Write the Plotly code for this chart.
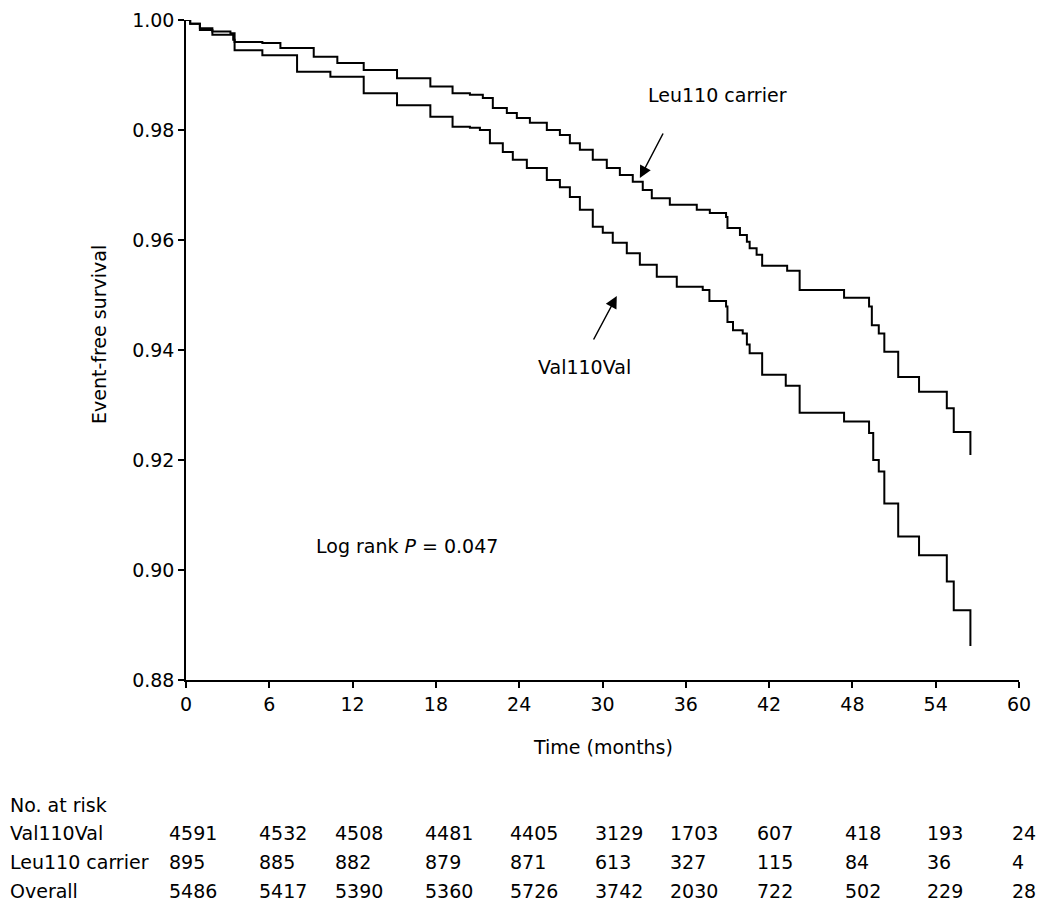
import plotly.graph_objects as go

# ---- data ----
leu_t = [0, 0.3, 1.0, 1.9, 3.2, 3.5, 5.5, 6.8, 9.2, 10.9, 12.8, 15.2, 17.6, 19.2, 20.45, 21.38,
         22.10, 23.11, 23.83, 24.77, 25.99, 26.93, 27.65, 28.37, 29.30, 30.31, 31.25, 32.18,
         32.90, 33.55, 34.85, 36.79, 37.73, 38.9, 39.0, 39.9, 40.4, 40.6, 41.1, 41.5,
         43.3, 44.2, 47.4, 49.2, 49.4, 49.9, 50.3, 51.3, 52.8, 54.8, 55.3, 56.5]
leu_s = [1.0, 0.9993, 0.9985, 0.9979, 0.9976, 0.9960, 0.9958, 0.9949, 0.9933, 0.9922, 0.9909,
         0.9894, 0.9879, 0.9867, 0.9864, 0.9858, 0.9840, 0.9831, 0.9822, 0.9813, 0.9800, 0.9791,
         0.9776, 0.9764, 0.9746, 0.9731, 0.9718, 0.9706, 0.9691, 0.9676, 0.9664, 0.9655, 0.9649,
         0.9642, 0.9622, 0.9609, 0.9597, 0.9585, 0.9573, 0.9553, 0.9544, 0.9509, 0.9495,
         0.9479, 0.9445, 0.9430, 0.9397, 0.9351, 0.9324, 0.9294, 0.9251, 0.9209]

val_t = [0, 0.3, 1.0, 1.9, 3.4, 3.5, 5.5, 8.0, 10.4, 12.8, 15.2, 17.6, 19.2, 20.45, 21.17, 21.89,
         22.82, 23.54, 24.55, 25.99, 26.93, 27.65, 28.37, 29.30, 30.02, 30.74, 31.75, 32.69,
         33.91, 35.35, 37.22, 37.7, 38.9, 39.0, 39.4, 40.1, 40.4, 40.6, 41.5, 43.2, 44.2, 47.4,
         49.2, 49.5, 49.9, 50.3, 51.3, 52.8, 54.8, 55.3, 56.5]
val_s = [1.0, 0.9993, 0.9982, 0.9973, 0.9964, 0.9945, 0.9936, 0.9906, 0.9897, 0.9867, 0.9845,
         0.9824, 0.9806, 0.9804, 0.9800, 0.9776, 0.9760, 0.9746, 0.9731, 0.9709, 0.9696, 0.9678,
         0.9655, 0.9624, 0.9613, 0.9595, 0.9576, 0.9555, 0.9533, 0.9515, 0.9509, 0.9489, 0.9479,
         0.9451, 0.9436, 0.9430, 0.9410, 0.9394, 0.9355, 0.9335, 0.9286, 0.9270, 0.9249, 0.9200,
         0.9179, 0.9121, 0.9061, 0.9027, 0.8979, 0.8927, 0.8862]

x_ticks = [0, 6, 12, 18, 24, 30, 36, 42, 48, 54, 60]
y_ticks = [0.88, 0.90, 0.92, 0.94, 0.96, 0.98, 1.00]

risk_groups = ["Val110Val", "Leu110 carrier", "Overall"]
risk_val = [4591, 4532, 4508, 4481, 4405, 3129, 1703, 607, 418, 193, 24]
risk_leu = [895, 885, 882, 879, 871, 613, 327, 115, 84, 36, 4]
risk_all = [5486, 5417, 5390, 5360, 5726, 3742, 2030, 722, 502, 229, 28]

# ---- layout geometry (figure pixels; page has an 8px body margin) ----
OFF = 8
W, H = 1042, 913
L, R, T, B = 178, 31, 12, 241
PW, PH = W - L - R, H - T - B

def px(xp):  # page pixel -> paper x
    return (xp - OFF - L) / PW

def py(yp):  # page pixel -> paper y
    return (H - B - (yp - OFF)) / PH

FS = 19
FONT = "DejaVu Sans, Liberation Sans, Arial, sans-serif"
fig = go.Figure()
fig.add_trace(go.Scatter(x=val_t, y=val_s, mode="lines", line=dict(color="black", width=2, shape="hv"),
                         name="Val110Val", showlegend=False))
fig.add_trace(go.Scatter(x=leu_t, y=leu_s, mode="lines", line=dict(color="black", width=2, shape="hv"),
                         name="Leu110 carrier", showlegend=False))

ann = []
ann.append(dict(x=px(646), y=py(95), xref="paper", yref="paper", text="Leu110 carrier",
                showarrow=False, xanchor="left", yanchor="middle"))
ann.append(dict(x=32.69, y=0.97127, xref="x", yref="y", ax=24, ay=-46, text="", showarrow=True,
                arrowhead=2, arrowsize=1.6, arrowwidth=1.5, arrowcolor="black"))
ann.append(dict(x=px(536), y=py(367), xref="paper", yref="paper", text="Val110Val",
                showarrow=False, xanchor="left", yanchor="middle"))
ann.append(dict(x=31.03, y=0.94982, xref="x", yref="y", ax=-24, ay=45, text="", showarrow=True,
                arrowhead=2, arrowsize=1.6, arrowwidth=1.5, arrowcolor="black"))
ann.append(dict(x=px(314), y=py(546), xref="paper", yref="paper",
                text="Log rank <i>P</i> = 0.047", showarrow=False, xanchor="left", yanchor="middle"))
ann.append(dict(x=px(603), y=py(747), xref="paper", yref="paper", text="Time (months)",
                showarrow=False, xanchor="center", yanchor="middle"))
ann.append(dict(x=px(99), y=py(335), xref="paper", yref="paper", text="Event-free survival",
                showarrow=False, xanchor="center", yanchor="middle", textangle=-90))

col_x = [167, 257, 333, 423, 508, 593, 668, 755, 843, 925, 1010]
row_y = [833, 862, 891]
ann.append(dict(x=px(8), y=py(805), xref="paper", yref="paper", text="No. at risk",
                showarrow=False, xanchor="left", yanchor="middle"))
for gi, (g, vals) in enumerate(zip(risk_groups, [risk_val, risk_leu, risk_all])):
    ann.append(dict(x=px(8), y=py(row_y[gi]), xref="paper", yref="paper", text=g,
                    showarrow=False, xanchor="left", yanchor="middle"))
    for ci, v in enumerate(vals):
        ann.append(dict(x=px(col_x[ci]), y=py(row_y[gi]), xref="paper", yref="paper", text=str(v),
                        showarrow=False, xanchor="left", yanchor="middle"))

fig.update_layout(
    width=W, height=H,
    margin=dict(l=L, r=R, t=T, b=B, autoexpand=False),
    paper_bgcolor="white", plot_bgcolor="white",
    font=dict(family=FONT, size=FS, color="black"),
    showlegend=False,
    annotations=ann,
    xaxis=dict(range=[0, 60], tickvals=x_ticks, ticktext=[str(v) for v in x_ticks],
               showgrid=False, zeroline=False, showline=True, linecolor="black", linewidth=1.5,
               ticks="outside", ticklen=6, tickwidth=1.5, tickcolor="black",
               tickfont=dict(size=FS), fixedrange=True),
    yaxis=dict(range=[0.88, 1.0], tickvals=y_ticks, ticktext=[f"{v:.2f}" for v in y_ticks],
               showgrid=False, zeroline=False, showline=True, linecolor="black", linewidth=1.5,
               ticks="outside", ticklen=6, tickwidth=1.5, tickcolor="black",
               tickfont=dict(size=FS), fixedrange=True),
)
fig.write_html("out.html")
